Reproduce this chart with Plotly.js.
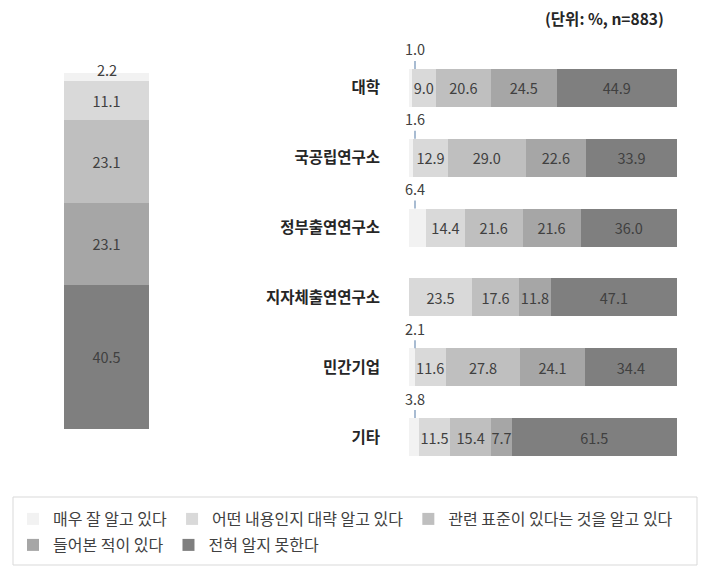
<!DOCTYPE html>
<html>
<head>
<meta charset="utf-8">
<script src="https://cdn.plot.ly/plotly-3.0.1.min.js"></script>
<style>html,body{margin:0;padding:0;background:#fff;}</style>
</head>
<body>
<div id="chart" style="width:710px;height:575px;"></div>
<script>
const categories = ['대학','국공립연구소','정부출연연구소','지자체출연연구소','민간기업','기타'];
const seriesNames = ['매우 잘 알고 있다','어떤 내용인지 대략 알고 있다','관련 표준이 있다는 것을 알고 있다','들어본 적이 있다','전혀 알지 못한다'];
const veryWell   = [1.0, 1.6, 6.4, 0, 2.1, 3.8];
const roughly    = [9.0, 12.9, 14.4, 23.5, 11.6, 11.5];
const knowExists = [20.6, 29.0, 21.6, 17.6, 27.8, 15.4];
const heardOf    = [24.5, 22.6, 21.6, 11.8, 24.1, 7.7];
const notAtAll   = [44.9, 33.9, 36.0, 47.1, 34.4, 61.5];
const overall    = [2.2, 11.1, 23.1, 23.1, 40.5];
const overallCat = ['전체'];
const unitText = '(단위: %, n=883)';

const colors = ['#f2f2f2','#d9d9d9','#bfbfbf','#a6a6a6','#7f7f7f'];
const FONT = '"Noto Sans CJK KR", "Noto Sans", sans-serif';
const W = 710, H = 575;
const px = v => v / W, py = v => 1 - v / H;
const NUMSIZE = 14.5;

const hSeries = [veryWell, roughly, knowExists, heardOf, notAtAll];
const data = [];
hSeries.forEach((vals, i) => {
  data.push({
    type: 'bar', orientation: 'h', name: seriesNames[i],
    x: vals, y: categories, xaxis: 'x2', yaxis: 'y2',
    width: 0.545,
    marker: {color: colors[i], line: {width: 0}},
    text: i === 0 ? vals.map(() => '') : vals.map(v => v.toFixed(1)),
    textposition: 'inside', insidetextanchor: 'middle', textangle: 0,
    constraintext: 'none',
    textfont: {family: FONT, size: NUMSIZE, color: '#404040'},
    legend: i < 3 ? 'legend' : 'legend2',
    hoverinfo: 'skip'
  });
});
overall.forEach((v, i) => {
  data.push({
    type: 'bar', name: seriesNames[i], showlegend: false,
    x: overallCat, y: [v], xaxis: 'x', yaxis: 'y',
    width: 1,
    marker: {color: colors[i], line: {width: 0}},
    text: i === 0 ? [''] : [v.toFixed(1)],
    textposition: 'inside', insidetextanchor: 'middle', textangle: 0,
    constraintext: 'none',
    textfont: {family: FONT, size: NUMSIZE, color: '#404040'},
    hoverinfo: 'skip'
  });
});

const annotations = [];
veryWell.forEach((v, i) => {
  if (v > 0) {
    annotations.push({
      xref: 'x2', yref: 'y2', x: 0, y: i - 0.2725,
      text: v.toFixed(1), showarrow: true, arrowhead: 0, arrowwidth: 1.2,
      arrowcolor: '#6f8fb5', ax: 0, ay: -20, standoff: 0, xshift: 6,
      font: {family: FONT, size: NUMSIZE, color: '#404040'}
    });
  }
});
annotations.push({
  xref: 'x', yref: 'y', x: overallCat[0], y: 0,
  text: overall[0].toFixed(1), showarrow: false, yanchor: 'middle', yshift: 3,
  font: {family: FONT, size: NUMSIZE, color: '#404040'}
});
annotations.push({
  xref: 'paper', yref: 'paper', x: px(666), y: py(18), xanchor: 'right', yanchor: 'middle',
  text: '<b>' + unitText + '</b>', showarrow: false,
  font: {family: FONT, size: 15.5, color: '#262626'}
});

const legendFont = {family: FONT, size: 16, color: '#404040'};
const layout = {
  width: W, height: H,
  margin: {l: 0, r: 0, t: 0, b: 0},
  paper_bgcolor: '#ffffff', plot_bgcolor: 'rgba(0,0,0,0)',
  barmode: 'stack',
  font: {family: FONT, size: 13, color: '#404040'},
  xaxis: {domain: [px(64), px(149)], range: [-0.5, 0.5], visible: false, fixedrange: true},
  yaxis: {domain: [py(429), py(73)], range: [100, 0], visible: false, fixedrange: true},
  xaxis2: {anchor: 'y2', domain: [px(409), px(677)], range: [0, 100], visible: false, fixedrange: true},
  yaxis2: {anchor: 'x2', domain: [py(472), py(53)], autorange: 'reversed', type: 'category',
    showgrid: false, zeroline: false, showline: false, ticks: '',
    ticklabelstandoff: 28,
    tickfont: {family: FONT, size: 15.5, color: '#262626', weight: 'bold'}},
  showlegend: true,
  legend: {orientation: 'h', x: px(13), y: py(502), xanchor: 'left', yanchor: 'top',
    traceorder: 'normal', bgcolor: 'rgba(0,0,0,0)', borderwidth: 0, font: legendFont},
  legend2: {orientation: 'h', x: px(13), y: py(528), xanchor: 'left', yanchor: 'top',
    traceorder: 'normal', bgcolor: 'rgba(0,0,0,0)', borderwidth: 0, font: legendFont},
  shapes: [{type: 'rect', xref: 'paper', yref: 'paper', x0: px(13), x1: px(697), y0: py(497), y1: py(565),
    line: {color: '#d9d9d9', width: 1}, fillcolor: 'rgba(0,0,0,0)'}],
  annotations: annotations
};

Plotly.newPlot('chart', data, layout, {displayModeBar: false, staticPlot: true});
</script>
</body>
</html>
